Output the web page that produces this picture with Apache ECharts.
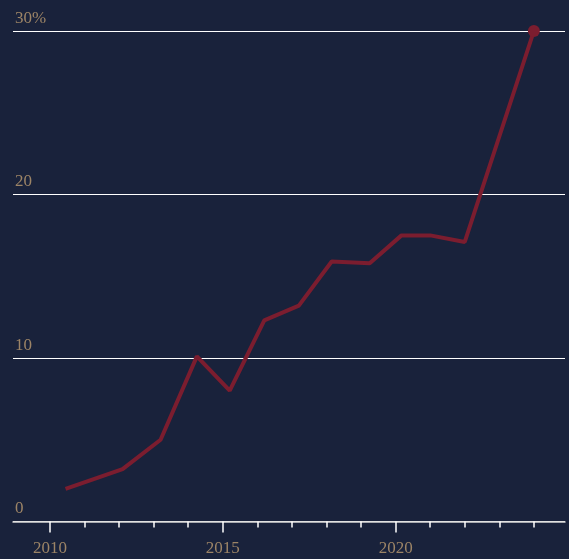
<!DOCTYPE html>
<html><head><meta charset="utf-8">
<script src="https://cdn.jsdelivr.net/npm/echarts@6/dist/echarts.min.js"></script>
<style>html,body{margin:0;padding:0;background:#19223b;}#c{width:569px;height:559px;}</style>
</head><body><div id="c"></div>
<script>
const years = [2010.45, 2012.1, 2013.2, 2014.25, 2015.2, 2016.2, 2017.2, 2018.15, 2019.25, 2020.17, 2021.0, 2022.0, 2024.0];
const values = [2.0, 3.2, 5.0, 10.1, 8.0, 12.3, 13.2, 15.9, 15.8, 17.5, 17.5, 17.1, 30.0];
const minorTicks = [2010,2011,2012,2013,2014,2015,2016,2017,2018,2019,2020,2021,2022,2023,2024];
const majorTicks = [2010, 2015, 2020];
const yTicks = [0, 10, 20, 30];

const labelColor = '#9c8466';
const font = '"Liberation Serif", serif';
const xMin = 2008.93, xMax = 2024.9;

const chart = echarts.init(document.getElementById('c'));
chart.setOption({
  backgroundColor: '#19223b',
  animation: false,
  grid: {left: 13, right: 4, top: 31, bottom: 37.5},
  xAxis: [
    {type: 'value', min: xMin, max: xMax, position: 'bottom',
     axisLine: {show: true, onZero: false, lineStyle: {color: '#d8d8d8', width: 1.5}},
     axisTick: {show: true, customValues: minorTicks, length: 6, lineStyle: {color: '#ffffff', width: 1.5}},
     axisLabel: {show: false}, splitLine: {show: false}},
    {type: 'value', min: xMin, max: xMax, position: 'bottom',
     axisLine: {show: false, onZero: false},
     axisTick: {show: true, customValues: majorTicks, length: 11, lineStyle: {color: '#ffffff', width: 1.5}},
     axisLabel: {show: true, customValues: majorTicks, margin: 19, color: labelColor, fontFamily: font, fontSize: 17, formatter: v => String(v)},
     splitLine: {show: false}}
  ],
  yAxis: {type: 'value', min: 0, max: 30, interval: 10,
    axisLine: {show: false}, axisTick: {show: false},
    axisLabel: {inside: true, margin: 2, verticalAlign: 'bottom', padding: [0,0,4,0], color: labelColor, fontFamily: font, fontSize: 17,
      formatter: v => v === 30 ? '30%' : String(v)},
    splitLine: {show: true, lineStyle: {color: '#ffffff', width: 1.2}}},
  series: [{
    type: 'line', xAxisIndex: 0,
    data: years.map((y, i) => [y, values[i]]),
    lineStyle: {color: '#7b1d2f', width: 4},
    itemStyle: {color: '#7b1d2f'},
    symbol: 'circle',
    symbolSize: (v, p) => p.dataIndex === years.length - 1 ? 12 : 0,
    showSymbol: true,
    clip: false,
    z: 5
  }]
});
</script></body></html>
